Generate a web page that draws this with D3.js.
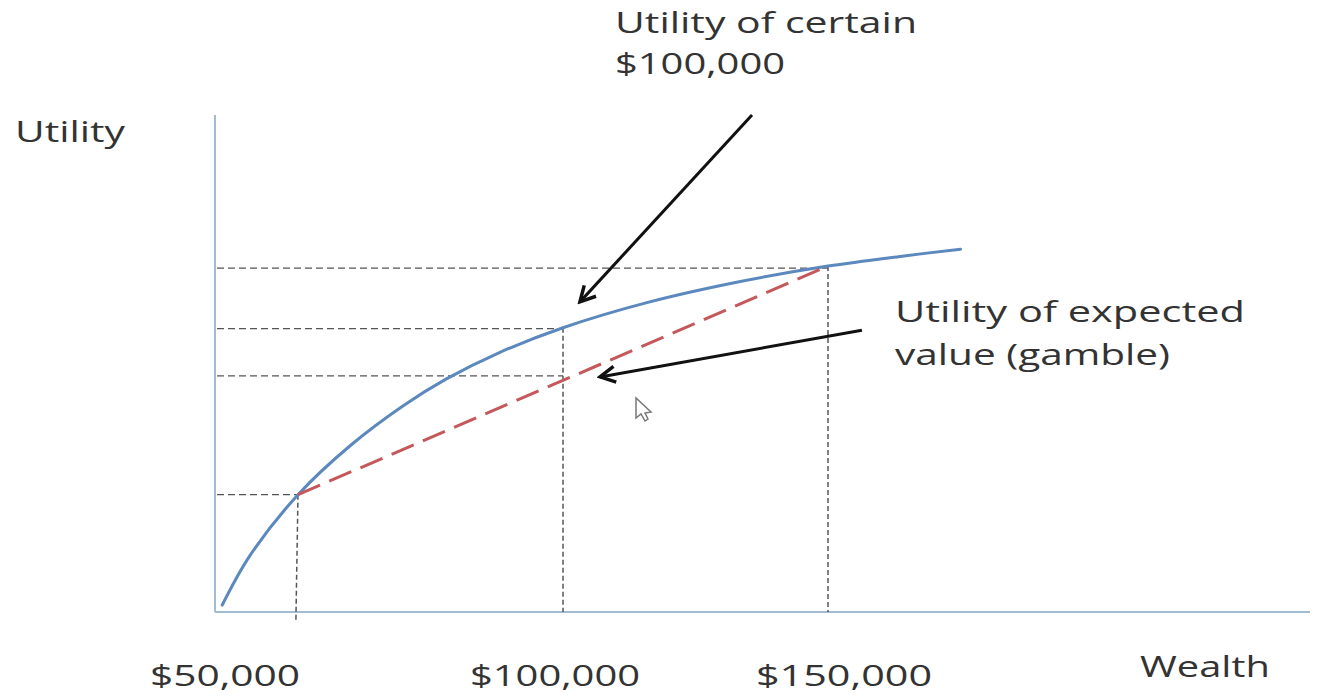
<!DOCTYPE html>
<html>
<head>
<meta charset="utf-8">
<script src="https://cdn.jsdelivr.net/npm/d3@7"></script>
<style>
  body { margin: 0; background: #fff; }
  text { font-family: "Open Sans", "DejaVu Sans", sans-serif; fill: #333; }
</style>
</head>
<body>
<div id="chart"></div>
<script>
// 数据: 效用曲线 (wealth, utility)
var wealth  = [35700, 40900, 50000, 60000, 70000, 78000, 88000, 100000, 116000, 133000, 150000, 164000, 175000];
var utility = [1.4, 11.3, 23.6, 33.6, 41.6, 46.9, 52.2, 57.2, 62.3, 66.4, 69.6, 71.6, 73.0];

// 赌局的两个结果 (红色虚线)
var gambleWealth  = [50000, 150000];
var gambleUtility = [23.6, 69.6];

// 水平虚线: 效用水平 与 终点财富
var hLevels = [69.2, 57.0, 47.5, 23.6];
var hEnds   = [150000, 100000, 100000, 50000];

// 竖直虚线: 起点 与 终点
var vFromW = [150000, 100000, 50000];
var vFromU = [69.6, 57.2, 23.6];
var vToW   = [150000, 100000, 49600];
var vToU   = [0, 0, -2];

var tickLabels = ["$50,000", "$100,000", "$150,000"];

var width = 1321, height = 697;

var svg = d3.select("#chart")
    .append("svg")
    .attr("width", width)
    .attr("height", height);

var x = d3.scaleLinear().domain([50000, 150000]).range([298, 828]);
var y = d3.scaleLinear().domain([0, 100]).range([612, 115]);

var axisColor = "#a3bcd4";
var x0 = 215, xEnd = 1310;

// 坐标轴
svg.append("line")
    .attr("x1", x0).attr("x2", x0)
    .attr("y1", y(100)).attr("y2", y(0))
    .attr("stroke", axisColor).attr("stroke-width", 2);
svg.append("line")
    .attr("x1", x0).attr("x2", xEnd)
    .attr("y1", y(0)).attr("y2", y(0))
    .attr("stroke", axisColor).attr("stroke-width", 2);

// 水平虚线
svg.selectAll(".hguide")
    .data(hLevels)
    .enter()
    .append("line")
    .attr("class", "hguide")
    .attr("x1", x0 + 2)
    .attr("x2", function (d, i) { return x(hEnds[i]); })
    .attr("y1", function (d) { return y(d); })
    .attr("y2", function (d) { return y(d); })
    .attr("stroke", "#555")
    .attr("stroke-width", 1.3)
    .attr("stroke-dasharray", "7,4");

// 竖直虚线
svg.selectAll(".vguide")
    .data(vFromW)
    .enter()
    .append("line")
    .attr("class", "vguide")
    .attr("x1", function (d) { return x(d); })
    .attr("y1", function (d, i) { return y(vFromU[i]); })
    .attr("x2", function (d, i) { return x(vToW[i]); })
    .attr("y2", function (d, i) { return y(vToU[i]); })
    .attr("stroke", "#555")
    .attr("stroke-width", 1.5)
    .attr("stroke-dasharray", "5,3");

// 效用曲线
var line = d3.line()
    .x(function (d) { return x(d[0]); })
    .y(function (d) { return y(d[1]); })
    .curve(d3.curveCatmullRom.alpha(0.5));

var curveData = wealth.map(function (w, i) { return [w, utility[i]]; });

svg.append("path")
    .datum(curveData)
    .attr("d", line)
    .attr("fill", "none")
    .attr("stroke", "#5b88bd")
    .attr("stroke-width", 3)
    .attr("stroke-linecap", "round");

// 红色虚线 (期望值)
svg.append("path")
    .datum(gambleWealth.map(function (w, i) { return [w, gambleUtility[i]]; }))
    .attr("d", d3.line().x(function (d) { return x(d[0]); }).y(function (d) { return y(d[1]); }))
    .attr("fill", "none")
    .attr("stroke", "#c4585a")
    .attr("stroke-width", 3)
    .attr("stroke-dasharray", "24,10");

// 箭头
svg.append("defs").append("marker")
    .attr("id", "arrow")
    .attr("viewBox", "0 0 20 20")
    .attr("refX", 17).attr("refY", 10)
    .attr("markerWidth", 20).attr("markerHeight", 20)
    .attr("markerUnits", "userSpaceOnUse")
    .attr("orient", "auto")
    .append("path")
    .attr("d", "M2,2 L17,10 L2,18")
    .attr("fill", "none")
    .attr("stroke", "#111")
    .attr("stroke-width", 3.5)
    .attr("stroke-linejoin", "miter");

var arrows = [
    { fw: 135660, fu: 100, tw: 103200, tu: 62.4 },
    { fw: 156400, fu: 56.7, tw: 107000, tu: 47.3 }
];
svg.selectAll(".arrow")
    .data(arrows)
    .enter()
    .append("line")
    .attr("class", "arrow")
    .attr("x1", function (d) { return x(d.fw); })
    .attr("y1", function (d) { return y(d.fu); })
    .attr("x2", function (d) { return x(d.tw); })
    .attr("y2", function (d) { return y(d.tu); })
    .attr("stroke", "#111")
    .attr("stroke-width", 3)
    .attr("marker-end", "url(#arrow)");

// 鼠标指针
svg.append("path")
    .attr("d", "M636,398 L636,418 L641,414 L645,421 L648,419 L645,413 L651,412 Z")
    .attr("fill", "#fff")
    .attr("stroke", "#777")
    .attr("stroke-width", 1.5);

// 文字
var labels = [
    { t: "Utility of certain", x: 615, y: 33, len: 302 },
    { t: "$100,000", x: 615, y: 74, len: 170 },
    { t: "Utility", x: 15, y: 142, len: 110 },
    { t: "Utility of expected", x: 895, y: 322, len: 350 },
    { t: "value (gamble)", x: 895, y: 365, len: 275 },
    { t: "Wealth", x: 1140, y: 677, len: 130 }
];
var tickPos = [
    { x: 150, len: 150 },
    { x: 470, len: 170 },
    { x: 756, len: 176 }
];
tickLabels.forEach(function (t, i) {
    labels.push({ t: t, x: tickPos[i].x, y: 686, len: tickPos[i].len });
});

svg.selectAll(".label")
    .data(labels)
    .enter()
    .append("text")
    .attr("class", "label")
    .attr("x", function (d) { return d.x; })
    .attr("y", function (d) { return d.y; })
    .attr("font-size", "29px")
    .attr("textLength", function (d) { return d.len; })
    .attr("lengthAdjust", "spacingAndGlyphs")
    .text(function (d) { return d.t; });
</script>
</body>
</html>
